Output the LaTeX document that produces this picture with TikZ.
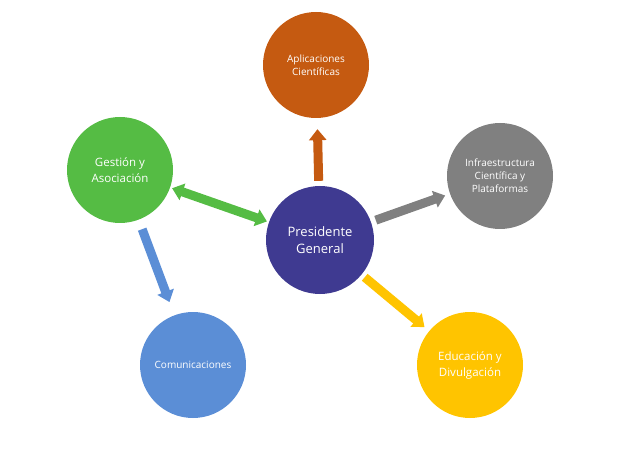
\documentclass[tikz,border=0pt]{standalone}
\usepackage{fontspec}
\setmainfont{Open Sans}
\usetikzlibrary{arrows.meta}
\definecolor{cnavy}{HTML}{3F3A91}
\definecolor{corange}{HTML}{C55A11}
\definecolor{cgray}{HTML}{808080}
\definecolor{cgreen}{HTML}{55BC44}
\definecolor{cblue}{HTML}{5B8ED6}
\definecolor{cyellow}{HTML}{FFC400}
\tikzset{
  circ/.style={circle,minimum size=106pt,inner sep=0pt,text=white,align=center,font=\fontsize{10}{13}\selectfont},
  blk/.style={line width=9pt,-{Triangle[width=17pt,length=11pt]}},
  dblk/.style={line width=9pt,{Triangle[width=17pt,length=11pt]}-{Triangle[width=17pt,length=11pt]}}
}
\begin{document}
\begin{tikzpicture}[x=1pt,y=1pt]
\useasboundingbox (0,0) rectangle (640,472);
\node[circ,fill=cnavy,minimum size=108pt,font=\fontsize{13}{17}\selectfont] (c) at (320,232) {Presidente\\General};
\node[circ,fill=corange] (a) at (316,407) {Aplicaciones\\Científicas};
\node[circ,fill=cgreen,font=\fontsize{11.5}{16}\selectfont] (g) at (120,302) {Gestión y\\Asociación};
\node[circ,fill=cgray] (i) at (500,296) {Infraestructura\\Científica y\\Plataformas};
\node[circ,fill=cblue] (m) at (193,107) {Comunicaciones};
\node[circ,fill=cyellow,font=\fontsize{11.5}{16}\selectfont] (e) at (470,107) {Educación y\\Divulgación};
\draw[blk,corange,shorten <=5pt,shorten >=11pt] (c) -- (a);
\draw[blk,cgray,shorten <=5pt,shorten >=5pt] (c) -- (i);
\draw[blk,cyellow,shorten <=4pt,shorten >=6pt] (c) -- (e);
\draw[blk,cblue,shorten <=10pt,shorten >=14pt] (g) -- (m);
\draw[dblk,cgreen,shorten <=2pt,shorten >=2pt] (g) -- (c);
\end{tikzpicture}
\end{document}
